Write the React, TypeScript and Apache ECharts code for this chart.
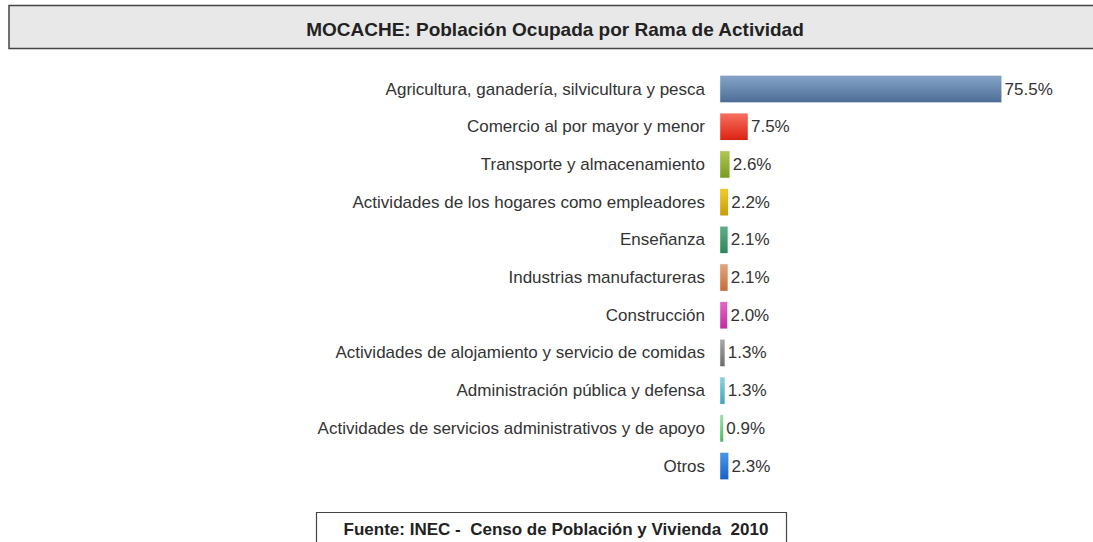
import React, { useEffect, useRef } from "react";
import * as echarts from "echarts";

const categories = [
  "Agricultura, ganadería, silvicultura y pesca",
  "Comercio al por mayor y menor",
  "Transporte y almacenamiento",
  "Actividades de los hogares como empleadores",
  "Enseñanza",
  "Industrias manufactureras",
  "Construcción",
  "Actividades de alojamiento y servicio de comidas",
  "Administración pública y defensa",
  "Actividades de servicios administrativos y de apoyo",
  "Otros",
];
const values = [75.5, 7.5, 2.6, 2.2, 2.1, 2.1, 2.0, 1.3, 1.3, 0.9, 2.3];
const colorTop = ["#86a4c8", "#f86e5e", "#b0c850", "#f4cc2a", "#5eb086", "#e4a47a", "#e468c8", "#a8a8a8", "#8ad4e2", "#9ee6aa", "#4a98e6"];
const colorBottom = ["#4c6d96", "#dc2412", "#7a9a1e", "#c89e00", "#2c8658", "#c86c38", "#c02ca2", "#6c6c6c", "#3ea6c0", "#3cc05c", "#1a62c4"];
const titleText = "MOCACHE: Población Ocupada por Rama de Actividad";
const sourceText = "Fuente: INEC -  Censo de Población y Vivienda  2010";

export default function App() {
  const ref = useRef<HTMLDivElement>(null);
  useEffect(() => {
    if (!ref.current) return;
    const chart = echarts.init(ref.current, undefined, { renderer: "svg" });
    chart.setOption({
      animation: false,
      backgroundColor: "#ffffff",
      grid: { left: 720, top: 70.2, width: 373.5, height: 414.7, containLabel: false },
      xAxis: {
        type: "value",
        min: 0,
        max: 100,
        show: false,
      },
      yAxis: {
        type: "category",
        data: categories,
        inverse: true,
        axisLine: { show: false },
        axisTick: { show: false },
        axisLabel: {
          margin: 15,
          fontSize: 17,
          color: "#333333",
          fontFamily: "Liberation Sans, Arial, sans-serif",
        },
      },
      series: [
        {
          type: "bar",
          barWidth: 27,
          data: values.map((v, i) => ({
            value: v,
            itemStyle: {
              color: new echarts.graphic.LinearGradient(0, 0, 0, 1, [
                { offset: 0, color: colorTop[i] },
                { offset: 1, color: colorBottom[i] },
              ]),
              borderColor: "rgba(0,0,0,0.12)",
              borderWidth: 0.5,
            },
          })),
          label: {
            show: true,
            position: "right",
            distance: 3,
            fontSize: 17,
            color: "#333333",
            fontFamily: "Liberation Sans, Arial, sans-serif",
            formatter: (p: any) => p.value.toFixed(1) + "%",
          },
        },
      ],
      graphic: [
        {
          type: "rect",
          shape: { x: 9, y: 5.5, width: 1100, height: 43 },
          style: { fill: "#e8e8e8", stroke: "#444444", lineWidth: 1.5 },
          z: 0,
        },
        {
          type: "text",
          x: 555,
          y: 29,
          style: {
            text: titleText,
            fontSize: 19,
            fontWeight: "bold",
            fontFamily: "Liberation Sans, Arial, sans-serif",
            fill: "#222222",
            textAlign: "center",
            textVerticalAlign: "middle",
          },
          z: 1,
        },
        {
          type: "rect",
          shape: { x: 316.5, y: 512.5, width: 470, height: 40 },
          style: { fill: "#ffffff", stroke: "#444444", lineWidth: 1.2 },
          z: 0,
        },
        {
          type: "text",
          x: 556,
          y: 529,
          style: {
            text: sourceText,
            fontSize: 17,
            fontWeight: "bold",
            fontFamily: "Liberation Sans, Arial, sans-serif",
            fill: "#222222",
            textAlign: "center",
            textVerticalAlign: "middle",
          },
          z: 1,
        },
      ],
    });
    return () => chart.dispose();
  }, []);
  return (
    <div
      ref={ref}
      style={{ position: "absolute", left: 0, top: 0, width: 1093, height: 542 }}
    />
  );
}
